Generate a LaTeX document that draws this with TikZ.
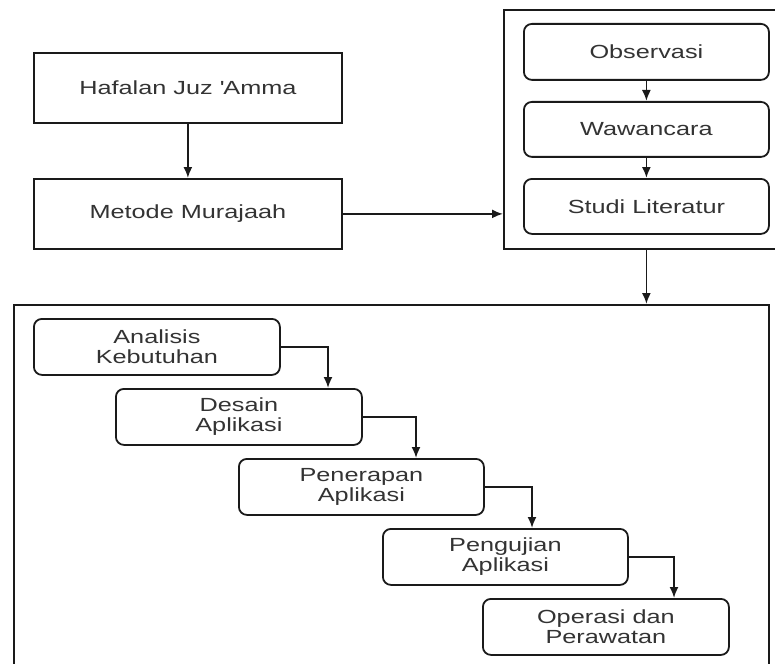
\documentclass[tikz,border=0pt]{standalone}
\usepackage{fontspec}
\setmainfont{Liberation Sans}[FakeStretch=1.33]
\usetikzlibrary{arrows.meta}
\definecolor{ink}{HTML}{1A1A1A}
\definecolor{txt}{HTML}{333333}
\begin{document}
\begin{tikzpicture}[x=1pt,y=-1pt,
  every node/.style={font=\fontsize{19}{20}\selectfont, text=txt},
  plainbox/.style={draw=ink, line width=1.8pt, anchor=north west, inner sep=0pt,
    minimum width=308pt, minimum height=70pt},
  stepbox/.style={draw=ink, line width=1.8pt, anchor=north west, inner sep=0pt,
    rounded corners=8pt, minimum width=245pt, minimum height=56pt, align=center},
  frame/.style={draw=ink, line width=1.8pt, anchor=north west, inner sep=0pt},
  arr/.style={draw=ink, line width=1.8pt, -{Latex[length=11pt,width=9pt]}}]
\useasboundingbox (0,0) rectangle (775,663);
\clip (0,0) rectangle (775,663);

% left column
\node[plainbox] (haf) at (33,52) {Hafalan Juz \textquotesingle Amma};
\node[plainbox] (met) at (33,178) {Metode Murajaah};

% data collection group
\node[frame, minimum width=320pt, minimum height=239pt] (grp1) at (503,9) {};
\node[stepbox] (obs) at (523,23) {Observasi};
\node[stepbox, minimum height=55pt] (waw) at (523,101) {Wawancara};
\node[stepbox, minimum height=55pt] (stu) at (523,178) {Studi Literatur};

% development group
\node[frame, minimum width=755pt, minimum height=420pt] (grp2) at (13,304) {};
\node[stepbox, minimum width=246pt] (ana) at (33,318) {Analisis\\Kebutuhan};
\node[stepbox, minimum width=246pt] (des) at (115,388) {Desain\\Aplikasi};
\node[stepbox] (pen) at (238,458) {Penerapan\\Aplikasi};
\node[stepbox] (peng) at (382,528) {Pengujian\\Aplikasi};
\node[stepbox, minimum width=246pt] (ope) at (482,598) {Operasi dan\\Perawatan};

% connectors
\draw[arr] (haf.south) -- (met.north);
\draw[arr] (met.east) -- (met.east -| grp1.west);
\draw[arr] (obs.south) -- (waw.north);
\draw[arr] (waw.south) -- (stu.north);
\draw[arr] (stu.south |- grp1.south) -- (stu.south |- grp2.north);
\draw[arr] (ana.east) -| ([xshift=213pt]des.north west);
\draw[arr] (des.east) -| ([xshift=178pt]pen.north west);
\draw[arr] (pen.east) -| ([xshift=150pt]peng.north west);
\draw[arr] (peng.east) -| ([xshift=192pt]ope.north west);
\end{tikzpicture}
\end{document}
